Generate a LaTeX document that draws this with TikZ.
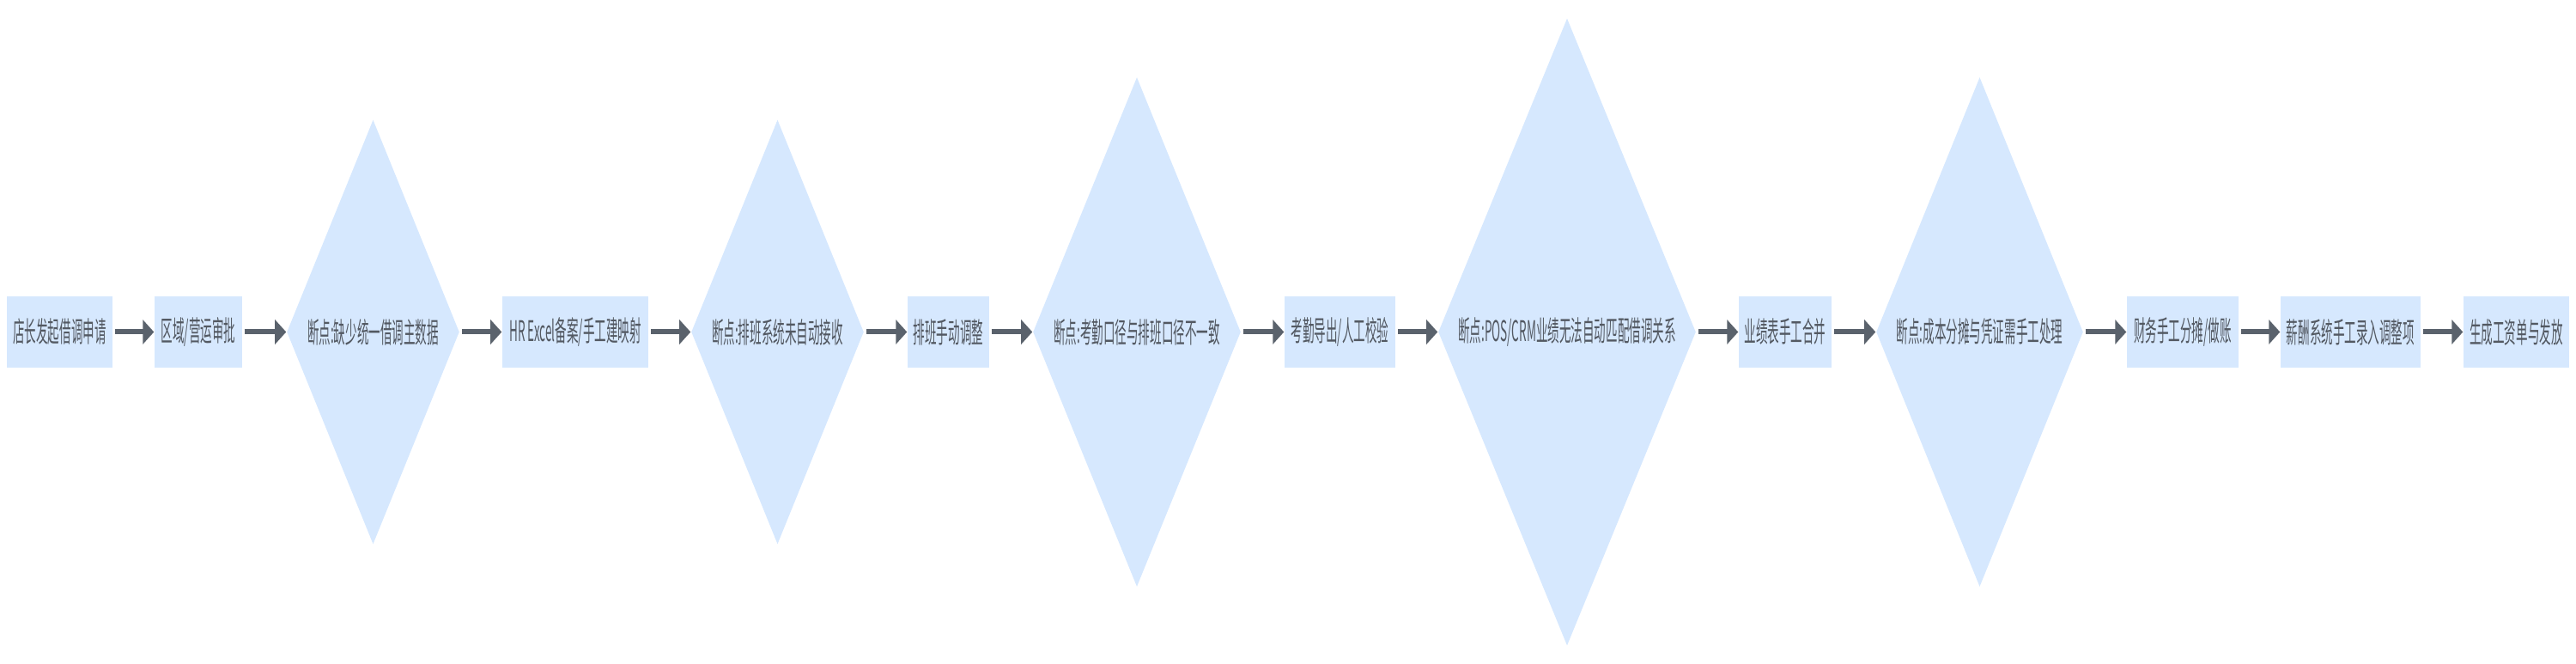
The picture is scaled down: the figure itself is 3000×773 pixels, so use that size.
\documentclass[tikz,border=0pt]{standalone}
\usepackage{fontspec}
\setmainfont{Noto Sans CJK SC}[FakeStretch=0.41]
\usetikzlibrary{shapes.geometric,arrows.meta}
\definecolor{stepfill}{RGB}{214,232,254}
\definecolor{steptext}{RGB}{83,89,98}
\definecolor{flowline}{RGB}{90,98,108}
\tikzset{
  stepbox/.style={rectangle, fill=stepfill, text=steptext, inner sep=0pt, minimum height=0.83cm, font=\fontsize{9.4}{11}\selectfont},
  breakpt/.style={diamond, aspect=0.4, fill=stepfill, text=steptext, inner sep=0pt, font=\fontsize{9.4}{11}\selectfont},
  flow/.style={draw=flowline, line width=0.06cm, -{Triangle[length=0.13cm,width=0.28cm]}, shorten <=0.02cm}
}
\begin{document}
\begin{tikzpicture}[x=0.01cm,y=0.01cm]
\useasboundingbox (0,0) rectangle (3000,773);
% steps and breakpoints, left to right
\node[stepbox, minimum width=1.23cm] (apply) at (69.5,386.5) {店长发起借调申请};
\node[stepbox, minimum width=1.02cm] (approve) at (231,386.5) {区域/营运审批};
\node[breakpt, minimum width=2.01cm, minimum height=4.94cm] (nomaster) at (434.5,386.5) {断点:缺少统一借调主数据};
\node[stepbox, minimum width=1.70cm] (hrmap) at (670,386.5) {HR Excel备案/手工建映射};
\node[breakpt, minimum width=2.01cm, minimum height=4.94cm] (noschedule) at (905.5,386.5) {断点:排班系统未自动接收};
\node[stepbox, minimum width=0.95cm] (schedfix) at (1104.5,386.5) {排班手动调整};
\node[breakpt, minimum width=2.42cm, minimum height=5.93cm] (mismatch) at (1324,386.5) {断点:考勤口径与排班口径不一致};
\node[stepbox, minimum width=1.29cm] (attcheck) at (1560.5,386.5) {考勤导出/人工校验};
\node[breakpt, minimum width=3.00cm, minimum height=7.30cm] (nomatch) at (1825,386.5) {断点:POS/CRM业绩无法自动匹配借调关系};
\node[stepbox, minimum width=1.08cm] (perfmerge) at (2079,386.5) {业绩表手工合并};
\node[breakpt, minimum width=2.41cm, minimum height=5.93cm] (costsplit) at (2305.5,386.5) {断点:成本分摊与凭证需手工处理};
\node[stepbox, minimum width=1.30cm] (finbook) at (2542,386.5) {财务手工分摊/做账};
\node[stepbox, minimum width=1.63cm] (payinput) at (2737.5,386.5) {薪酬系统手工录入调整项};
\node[stepbox, minimum width=1.23cm] (payout) at (2930.5,386.5) {生成工资单与发放};
% connectors
\foreach \a/\b in {apply/approve, approve/nomaster, nomaster/hrmap, hrmap/noschedule,
  noschedule/schedfix, schedfix/mismatch, mismatch/attcheck, attcheck/nomatch,
  nomatch/perfmerge, perfmerge/costsplit, costsplit/finbook, finbook/payinput, payinput/payout}
  \draw[flow] (\a) -- (\b);
\end{tikzpicture}
\end{document}
